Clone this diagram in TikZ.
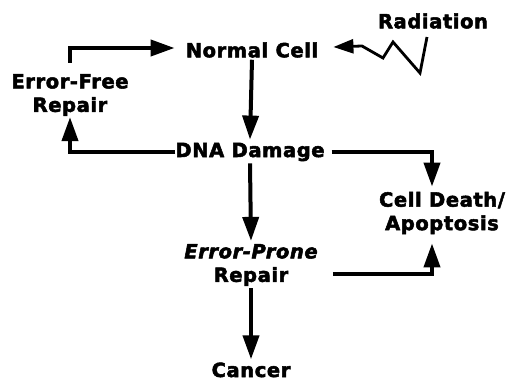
\documentclass[tikz,border=0pt]{standalone}
\usepackage{fontspec}
\newfontfamily\hv{DejaVu Sans Bold}[FakeBold=2.6, LetterSpace=3]
\newfontfamily\hvit{DejaVu Sans Bold Oblique}[FakeBold=2.6, LetterSpace=3]
\usetikzlibrary{arrows.meta}
\begin{document}
\begin{tikzpicture}[x=1pt,y=-1pt,
  lbl/.style={inner sep=1pt, align=center, font=\fontsize{19.5}{23.5}\hv},
  conn/.style={line width=4pt, -{Triangle[length=24pt,width=16pt]}},
  zig/.style={line width=2.8pt, line join=miter, -{Triangle[length=20pt,width=14pt]}}]
\useasboundingbox[fill=white] (0,0) rectangle (509,383);
\node[lbl] (rad) at (433,21) {Radiation};
\node[lbl] (nc) at (252,50) {Normal Cell};
\node[lbl] (dna) at (250,152) {DNA Damage};
\node[lbl] (efr) at (70,95) {Error-Free\\Repair};
\node[lbl] (cd) at (442,213) {Cell Death/\\Apoptosis};
\node[lbl] (epr) at (251,265) {{\hvit Error-Prone}\\Repair};
\node[lbl, anchor=base, inner sep=0pt] (can) at (251,377) {Cancer};
\coordinate (z0) at (427,37);
\coordinate (z1) at (420,73);
\coordinate (z2) at (393,42);
\coordinate (z3) at (383,58);
\coordinate (z4) at (362,46);
\draw[conn] ([yshift=-1pt]nc.south) -- ([yshift=2pt]dna.north);
\draw[conn] ([yshift=-1pt]dna.south) -- ([yshift=2pt]epr.north);
\draw[conn] ([yshift=-1pt]epr.south) -- ([yshift=3pt]can.north);
\draw[conn] ([xshift=1pt]dna.west) -| (efr.south);
\draw[conn] ([yshift=10pt]efr.north) |- ([yshift=2pt,xshift=-10pt]nc.west);
\draw[conn] ([xshift=6pt]dna.east) -| ([xshift=-10pt,yshift=4pt]cd.north);
\draw[conn] ([xshift=14pt,yshift=-9pt]epr.east) -| ([xshift=-10pt,yshift=-8pt]cd.south);
\draw[zig] (z0) -- (z1) -- (z2) -- (z3) -- (z4) -- ([xshift=14pt,yshift=3pt]nc.east);
\end{tikzpicture}
\end{document}
